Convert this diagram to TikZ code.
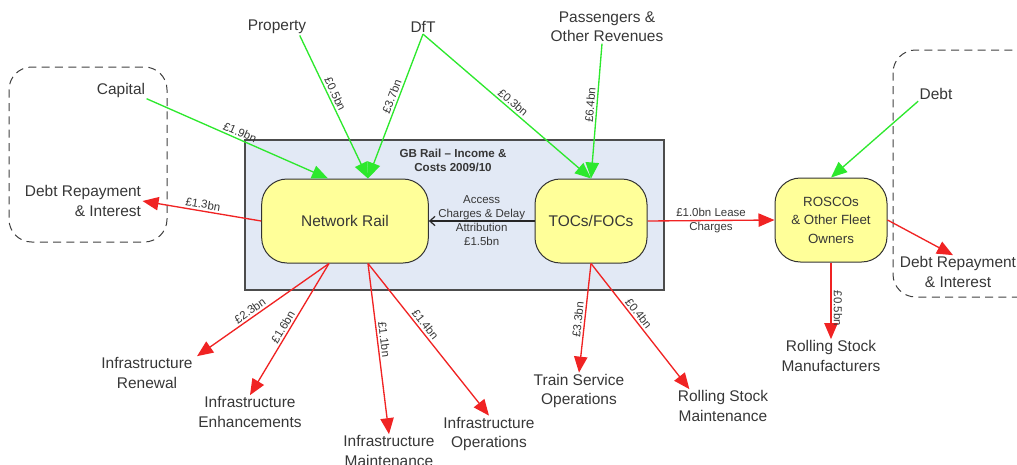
\documentclass[tikz,border=0pt]{standalone}
\usepackage{fontspec}
\setmainfont{Liberation Sans}
\usetikzlibrary{arrows.meta,calc}

\definecolor{boxyellow}{RGB}{255,255,153}
\definecolor{gbblue}{RGB}{226,233,245}
\definecolor{flowgreen}{RGB}{45,232,45}
\definecolor{flowred}{RGB}{240,35,35}
\definecolor{txtgrey}{RGB}{55,55,55}

\newcommand\bigtxt{\fontsize{11.6}{14.5}\selectfont}
\newcommand\midtxt{\fontsize{10}{13.9}\selectfont}
\newcommand\amttxt{\fontsize{8.6}{10.5}\selectfont}
\newcommand\titletxt{\bfseries\fontsize{8.7}{10.5}\selectfont}

\tikzset{every picture/.style={line width=0.75pt}}
\tikzset{
  fundbox/.style={draw=black!80, fill=boxyellow, rounded corners=19pt, minimum height=63pt,
    align=center, font=\bigtxt, text=txtgrey},
  party/.style={align=center, font=\bigtxt, text=txtgrey, inner sep=0.75pt},
  sidebox/.style={draw=black!75, dash pattern=on 6pt off 4pt, rounded corners=17pt},
  gbframe/.style={draw=black!70, fill=gbblue, line width=1.1pt},
  inflow/.style={draw=flowgreen, line width=1pt, -{Triangle[length=12pt,width=10pt]}},
  outflow/.style={draw=flowred, line width=1pt, -{Triangle[length=12pt,width=10pt,fill=flowred]}},
  access/.style={draw=black!85, line width=0.9pt, -{Straight Barb[length=4pt,width=7pt]}},
  amt/.style={font=\amttxt, text=txtgrey, sloped, above, inner sep=1.5pt},
  amtblock/.style={font=\amttxt, text=txtgrey, align=center, inner sep=0.75pt},
}

\begin{document}
\begin{tikzpicture}[x=0.75pt,y=0.75pt]
\useasboundingbox (0,0) rectangle (1017,-464);

%Dashed side boxes
\begin{scope}
\clip (0,0) rectangle (1017,-464);
\draw[sidebox] (9,-67) rectangle (167,-242);
\draw[sidebox] (893,-50) rectangle (1045,-297);
\end{scope}

%Shape: GB Rail frame
\draw[gbframe] (245,-140) rectangle (664,-290);
\node[amtblock, font=\titletxt] (title) at (453,-160) {GB Rail – Income \&\\Costs 2009/10};

% Fund boxes
\node[fundbox, minimum width=125pt] (nr) at (345,-221) {Network Rail};
\node[fundbox, minimum width=84pt] (toc) at (591,-221) {TOCs/FOCs};
\node[fundbox, minimum width=84pt, font=\midtxt] (rosco) at (831,-220) {ROSCOs\\\& Other Fleet\\Owners};

% Text Node
\node[party] (prop) at (277,-27) {Property};
\node[party] (dft) at (423,-27) {DfT};
\node[party] (pass) at (607,-27) {Passengers \&\\Other Revenues};
\node[party] (cap) at (121,-90) {Capital};
\node[party, align=right] (drl) at (83,-201) {Debt Repayment\\\& Interest};
\node[party] (debt) at (936,-94) {Debt};
\node[party] (drr) at (958,-272) {Debt Repayment\\\& Interest};
\node[party] (rsmf) at (831,-356) {Rolling Stock\\Manufacturers};
\node[party] (irn) at (147,-373) {Infrastructure\\Renewal};
\node[party] (ien) at (250,-412) {Infrastructure\\Enhancements};
\node[party] (ima) at (389,-451) {Infrastructure\\Maintenance};
\node[party] (iop) at (489,-434) {Infrastructure\\Operations};
\node[party] (tso) at (579,-391) {Train Service\\Operations};
\node[party] (rsmt) at (723,-406) {Rolling Stock\\Maintenance};

% Anchor points on Network Rail
\coordinate (nrtopl) at ($(nr.north)+(-17,0)$);
\coordinate (nrtopr) at ($(nr.north)+(23,0)$);
\coordinate (nrbotl) at ($(nr.south)+(-16,0)$);
\coordinate (nrbotr) at ($(nr.south)+(23,0)$);

%Straight Lines: income
\draw[inflow] (cap.south east) -- node[amt] {£1.9bn} (nrtopl);
\draw[inflow] ($(prop.south east)+(-8,0)$) -- node[amt, pos=0.43] {£0.5bn} (nrtopr);
\draw[inflow] (dft.south) -- node[amt, pos=0.45] {£3.7bn} (nrtopr);
\draw[inflow] (dft.south) -- node[amt, pos=0.51] {£0.3bn} (toc.north);
\draw[inflow] ($(pass.south)+(-5,0)$) -- node[amt, pos=0.46] {£6.4bn} (toc.north);
\draw[inflow] (debt.south west) -- (rosco.north);

%Straight Lines: payments
\draw[access] (toc.west) -- (nr.east);
\node[amtblock] (acc) at ($(nr.east)!0.5!(toc.west)$) {Access\\Charges \& Delay\\Attribution\\£1.5bn};
\draw[outflow] (toc.east) -- node[amtblock] {£1.0bn Lease\\Charges} (rosco.west);
\draw[outflow] (nr.west) -- node[amt] {£1.3bn} (drl.east);
\draw[outflow] (rosco.east) -- ($(drr.north)+(-5,0)$);
\draw[outflow] (rosco.south) -- node[amt, pos=0.6] {£0.5bn} (rsmf.north);

\draw[outflow] (nrbotl) -- node[amt, pos=0.57] {£2.3bn} ($(irn.north east)+(3,0)$);
\draw[outflow] (nrbotl) -- node[amt, pos=0.51] {£1.6bn} (ien.north);
\draw[outflow] (nrbotr) -- node[amt, pos=0.45] {£1.1bn} (ima.north);
\draw[outflow] (nrbotr) -- node[amt, pos=0.43] {£1.4bn} (iop.north);
\draw[outflow] (toc.south) -- node[amt, pos=0.52] {£3.3bn} (tso.north);
\draw[outflow] (toc.south) -- node[amt, pos=0.43] {£0.4bn} ($(rsmt.north west)+(13,0)$);

\end{tikzpicture}
\end{document}
